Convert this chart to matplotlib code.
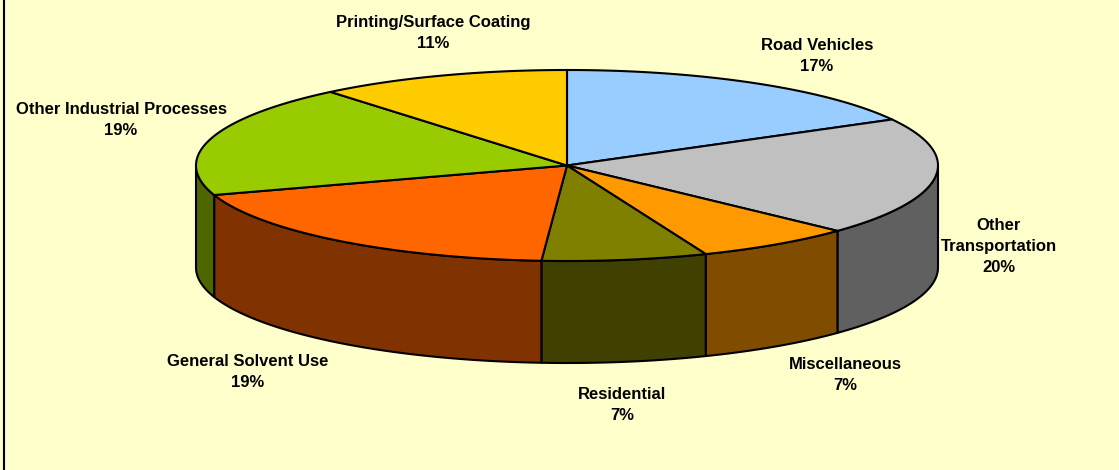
import numpy as np
import matplotlib
matplotlib.use("Agg")
import matplotlib.pyplot as plt
from matplotlib.patches import Polygon

categories = ["Road Vehicles", "Other Transportation", "Miscellaneous", "Residential",
              "General Solvent Use", "Other Industrial Processes", "Printing/Surface Coating"]
# slice sizes, the labels below show them rounded
values = [17, 20, 6.9, 7.2, 18.9, 19, 11]
colors = ["#99CCFF", "#C0C0C0", "#FF9900", "#808000", "#FF6600", "#99CC00", "#FFCC00"]
wall_colors = ["#4D6680", "#606060", "#804D00", "#404000", "#803300", "#4D6600", "#806600"]
label_text = ["Road Vehicles\n17%", "Other\nTransportation\n20%", "Miscellaneous\n7%", "Residential\n7%",
              "General Solvent Use\n19%", "Other Industrial Processes\n19%", "Printing/Surface Coating\n11%"]
label_pos = [(817, 56), (999, 246), (845, 375), (622, 405), (248, 372), (121, 120), (433, 33)]

plt.rcParams["font.family"] = ["Liberation Sans", "DejaVu Sans"]

# pie geometry in pixels
cx, cy = 567, 165.5
rx, ry = 371, 95.5
depth = 102
bg = "#FFFFCC"


def arc(a0, a1, dy=0):
    # angles in degrees, clockwise from 12 o'clock
    t = np.radians(np.linspace(a0, a1, 200))
    return np.column_stack([cx + rx * np.sin(t), cy - ry * np.cos(t) + dy])


fig = plt.figure(figsize=(11.19, 4.70), dpi=100, facecolor=bg)
ax = fig.add_axes([0, 0, 1, 1])
ax.set_xlim(0, 1119)
ax.set_ylim(470, 0)
ax.axis("off")

# chart frame, only the left edge is in view
ax.plot([4, 4], [0, 470], color="black", lw=1.5)

edges = np.cumsum([0] + values) / sum(values) * 360

# side walls, only the front half of the pie shows
for i in range(len(values)):
    a0 = max(edges[i], 90)
    a1 = min(edges[i + 1], 270)
    if a1 <= a0:
        continue
    pts = np.vstack([arc(a0, a1), arc(a0, a1, depth)[::-1]])
    ax.add_patch(Polygon(pts, closed=True, facecolor=wall_colors[i], edgecolor="black", lw=1.5, joinstyle="round"))

# top faces
for i in range(len(values)):
    pts = np.vstack([[[cx, cy]], arc(edges[i], edges[i + 1])])
    ax.add_patch(Polygon(pts, closed=True, facecolor=colors[i], edgecolor="black", lw=1.5, joinstyle="round"))

for txt, (x, y) in zip(label_text, label_pos):
    ax.text(x, y, txt, ha="center", va="center", fontsize=12, fontweight="bold",
            color="black", linespacing=1.5)

fig.savefig("out.png", dpi=100, facecolor=bg)
